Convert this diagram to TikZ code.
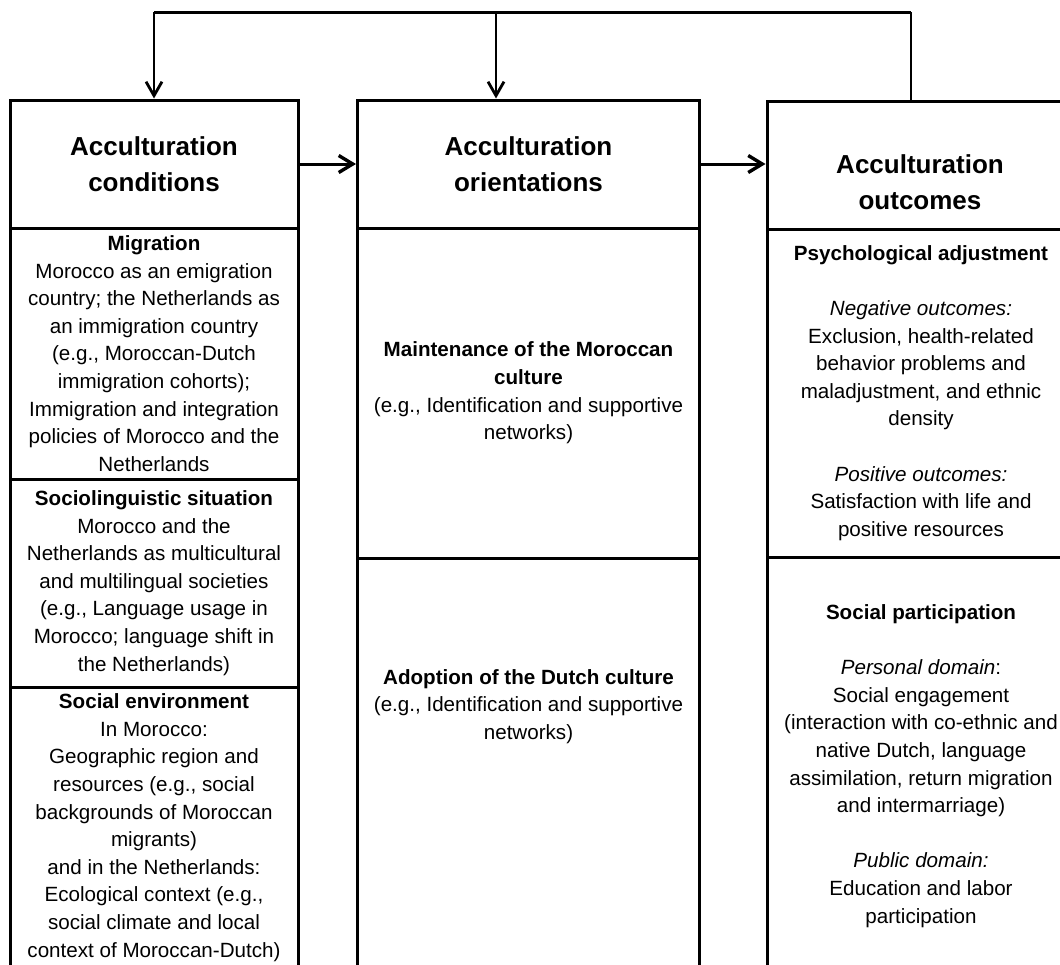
\documentclass[tikz,border=0pt]{standalone}
\usepackage{fontspec}
\setmainfont{Liberation Sans}
\usetikzlibrary{arrows.meta}

\begin{document}
\begin{tikzpicture}[x=1pt,y=-1pt,
    cell/.style={draw,line width=3pt,inner sep=0pt,align=center,font=\fontsize{20.6}{27.6}\selectfont},
    head/.style={align=center,font=\fontsize{26}{36}\selectfont\bfseries},
    body/.style={align=center,font=\fontsize{20.6}{27.6}\selectfont},
    flow/.style={line width=3pt,-{Straight Barb[length=14pt,width=17pt,line width=3.4pt]}},
    down/.style={line width=2.2pt,-{Straight Barb[length=14pt,width=16pt,line width=2.8pt]}}]
    \clip (0,0) rectangle (1060,964);
    \node[cell,head,minimum width=288,minimum height=128] (cond) at (154,164) {Acculturation\\conditions};
    \node[cell,minimum width=288,minimum height=251] (migr) at (154,353.5) {\textbf{Migration}\\
        Morocco as an emigration\\country; the Netherlands as\\an immigration country\\(e.g., Moroccan-Dutch\\
        immigration cohorts);\\Immigration and integration\\policies of Morocco and the\\Netherlands};
    \node[cell,minimum width=288,minimum height=208] (socling) at (154,583) {\textbf{Sociolinguistic situation}\\
        Morocco and the\\Netherlands as multicultural\\and multilingual societies\\(e.g., Language usage in\\
        Morocco; language shift in\\the Netherlands)};
    \node[cell,minimum width=288,minimum height=281] (socenv) at (154,827.5) {\textbf{Social environment}\\
        In Morocco:\\Geographic region and\\resources (e.g., social\\backgrounds of Moroccan\\migrants)\\
        and in the Netherlands:\\Ecological context (e.g.,\\social climate and local\\context of Moroccan-Dutch)};

    \node[cell,head,minimum width=342,minimum height=128] (orient) at (528.5,164) {Acculturation\\orientations};
    \node[cell,minimum width=342,minimum height=330] (maint) at (528.5,393) {\textbf{Maintenance of the Moroccan}\\
        \textbf{culture}\\(e.g., Identification and supportive\\networks)};
    \node[cell,minimum width=342,minimum height=442] (adopt) at (528.5,779) {};
    \node[body] (adopttxt) at (528.5,706.5) {\textbf{Adoption of the Dutch culture}\\
        (e.g., Identification and supportive\\networks)};

    \node[cell,minimum width=308,minimum height=128] (outc) at (921,165) {};
    \node[head] (outctxt) at (920,182) {Acculturation\\outcomes};
    \node[cell,minimum width=308,minimum height=328] (psych) at (921,393) {\textbf{Psychological adjustment}\\[27.6pt]
        \textit{Negative outcomes:}\\Exclusion, health-related\\behavior problems and\\maladjustment, and ethnic\\density\\[27.6pt]
        \textit{Positive outcomes:}\\Satisfaction with life and\\positive resources};
    \node[cell,minimum width=308,minimum height=418] (partic) at (921,766) {\textbf{Social participation}\\[27.6pt]
        \textit{Personal domain}:\\Social engagement\\(interaction with co-ethnic and\\native Dutch, language\\
        assimilation, return migration\\and intermarriage)\\[27.6pt]
        \textit{Public domain:}\\Education and labor\\participation};

    \coordinate (fb) at (911,12);
    \coordinate (fbm) at (496,12);
    \draw[flow] (cond) -- (orient);
    \draw[flow] (orient.east) -- (orient.east -| outc.west);
    \draw[line width=2.2pt] (outc.north -| fb) -- (fb);
    \draw[line width=3pt] (fb) -- (fb -| cond.north);
    \draw[down] (fb -| cond.north) -- (cond.north);
    \draw[down] (fbm) -- (fbm |- orient.north);
\end{tikzpicture}
\end{document}
